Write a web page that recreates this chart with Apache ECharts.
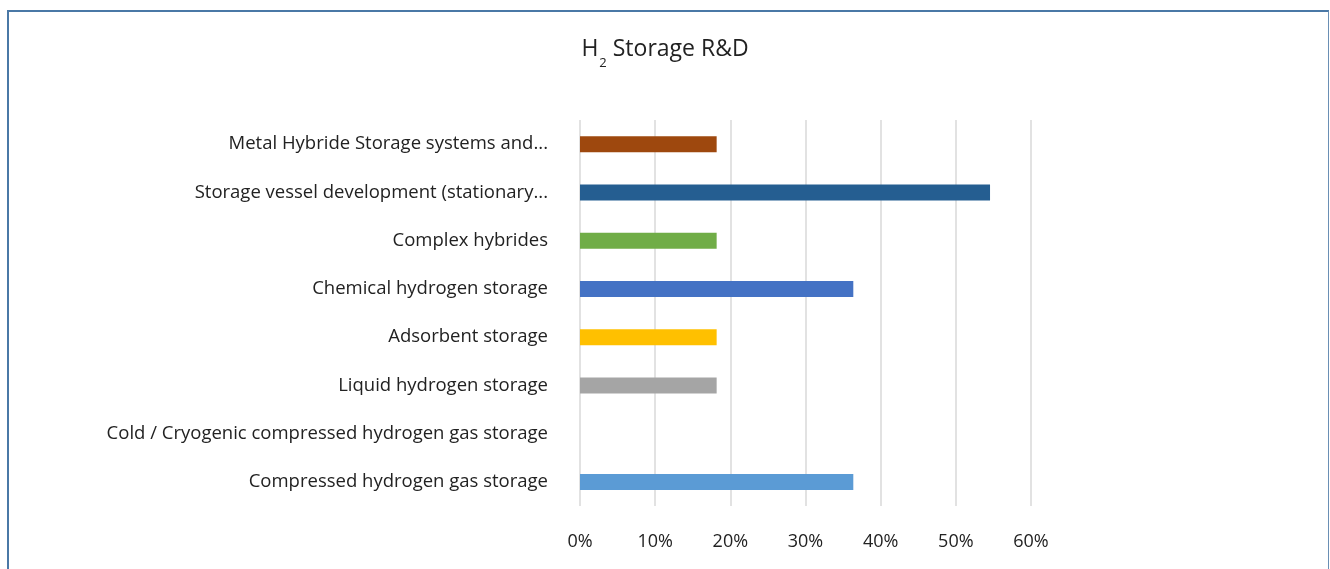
<!DOCTYPE html>
<html><head><meta charset="utf-8">
<script src="https://cdn.jsdelivr.net/npm/echarts@6/dist/echarts.min.js"></script>
<style>html,body{margin:0;padding:0;background:#fff}#c{width:1330px;height:569px}
#frame{position:absolute;left:7px;top:10px;width:1322px;height:570px;border-top:2px solid #4a78a6;border-left:2px solid #4a78a6;border-right:1px solid #6a8fb4;box-sizing:border-box;pointer-events:none}</style>
</head><body><div id="c"></div><div id="frame"></div>
<script>
const categories = [
  "Metal Hybride Storage systems and...",
  "Storage vessel development (stationary...",
  "Complex hybrides",
  "Chemical hydrogen storage",
  "Adsorbent storage",
  "Liquid hydrogen storage",
  "Cold / Cryogenic compressed hydrogen gas storage",
  "Compressed hydrogen gas storage"
];
const values = [18.18, 54.55, 18.18, 36.36, 18.18, 18.18, 0, 36.36];
const barColors = ["#9E480E", "#255E91", "#70AD47", "#4472C4", "#FFC000", "#A5A5A5", "#ED7D31", "#5B9BD5"];
const xTicks = [0, 10, 20, 30, 40, 50, 60];

const chart = echarts.init(document.getElementById('c'), null, {renderer: 'canvas'});
const font = "'Open Sans', 'Noto Sans', sans-serif";
chart.setOption({
  animation: false,
  textStyle: {fontFamily: font},
  title: {
    text: '{h|H}{s|2}{h| Storage R&D}',
    left: 'center', top: 33,
    textStyle: {
      fontWeight: 'normal',
      rich: {
        h: {fontSize: 23, lineHeight: 30, color: '#222', fontFamily: font, fontWeight: 'normal', verticalAlign: 'top'},
        s: {fontSize: 13, lineHeight: 14, color: '#222', fontFamily: font, fontWeight: 'normal', verticalAlign: 'top', padding: [19, 0, 0, 1]}
      }
    }
  },
  grid: {left: 580, right: 299, top: 120, bottom: 63, containLabel: false},
  xAxis: {
    type: 'value', min: xTicks[0], max: xTicks[xTicks.length - 1], interval: 10,
    axisLine: {show: false}, axisTick: {show: false},
    axisLabel: {formatter: v => v + '%', color: '#222', fontSize: 18, margin: 27, fontFamily: font},
    splitLine: {lineStyle: {color: '#d9d9d9', width: 1.5}}
  },
  yAxis: {
    type: 'category', data: categories, inverse: true,
    axisLine: {show: false}, axisTick: {show: false},
    axisLabel: {color: '#222', fontSize: 18.5, margin: 32, fontFamily: font, padding: [2, 0, 0, 0]}
  },
  series: [{
    type: 'bar', barWidth: 16,
    data: values.map((v, i) => ({value: v, itemStyle: {color: barColors[i]}}))
  }]
});
</script></body></html>
